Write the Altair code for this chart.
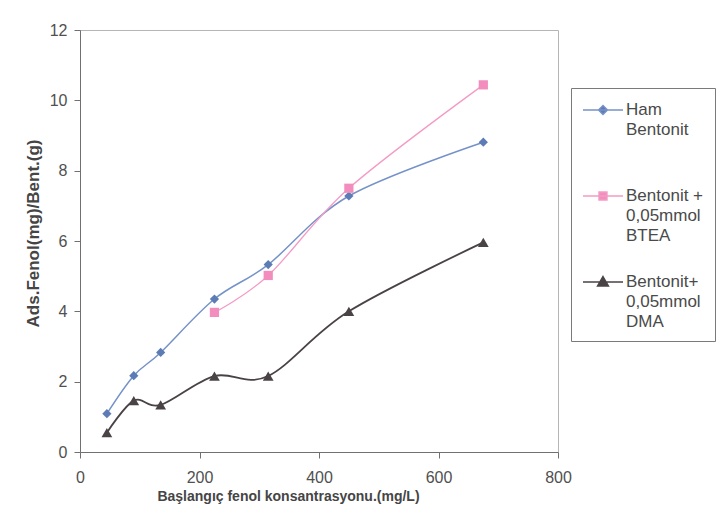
import altair as alt
import pandas as pd

# ---- data ----
x_values = [45, 90, 135, 225, 315, 450, 675]
ham_values = [1.09, 2.17, 2.83, 4.35, 5.33, 7.28, 8.81]
btea_x = [225, 315, 450, 675]
btea_values = [3.97, 5.02, 7.50, 10.44]
dma_values = [0.55, 1.46, 1.34, 2.16, 2.16, 4.00, 5.96]

series_names = ["Ham|Bentonit|", "Bentonit +|0,05mmol|BTEA", "Bentonit+|0,05mmol|DMA"]
marker_colors = ["#5d7cb6", "#f28dbd", "#4a4345"]
line_colors = ["#7592c8", "#f49ac5", "#4a4345"]
line_widths = [1.5, 1.3, 1.8]
marker_shapes = ["diamond", "square", "triangle-up"]
marker_sizes = [85, 85, 115]
# legend symbols: a short line with the series marker on it
legend_paths = [
    "M-1,0L3,0M1,-0.45L1.45,0L1,0.45L0.55,0Z",
    "M-1,0L3,0M0.6,-0.4L1.4,-0.4L1.4,0.4L0.6,0.4Z",
    "M-1,0L3,0M1,-0.55L1.55,0.4L0.45,0.4Z",
]

x_ticks = [0, 200, 400, 600, 800]
y_ticks = [0, 2, 4, 6, 8, 10, 12]

rows = []
for x, y in zip(x_values, ham_values):
    rows.append({"x": x, "y": y, "series": series_names[0]})
for x, y in zip(btea_x, btea_values):
    rows.append({"x": x, "y": y, "series": series_names[1]})
for x, y in zip(x_values, dma_values):
    rows.append({"x": x, "y": y, "series": series_names[2]})
df = pd.DataFrame(rows)

FONT = "Liberation Sans"

x_enc = alt.X(
    "x:Q",
    scale=alt.Scale(domain=[0, 800], nice=False),
    axis=alt.Axis(
        values=x_ticks,
        title="Başlangıç fenol konsantrasyonu.(mg/L)",
        titleFont=FONT, titleFontSize=14, titleFontWeight="bold", titleColor="#454545",
        titleX=208, titleY=48, titleBaseline="alphabetic", titleAlign="center",
        labelFont=FONT, labelFontSize=16, labelColor="#505050", labelPadding=11,
        tickSize=6, tickColor="#707070", domainColor="#707070", grid=False,
        labelFlush=False,
    ),
)
y_enc = alt.Y(
    "y:Q",
    scale=alt.Scale(domain=[0, 12], nice=False),
    axis=alt.Axis(
        values=y_ticks,
        title="Ads.Fenol(mg)/Bent.(g)",
        titleFont=FONT, titleFontSize=17, titleFontWeight="bold", titleColor="#454545",
        titleX=-42, titleY=203, titleAngle=270, titleBaseline="alphabetic", titleAlign="center",
        labelFont=FONT, labelFontSize=16, labelColor="#505050", labelPadding=7,
        tickSize=6, tickColor="#707070", domainColor="#707070", grid=False,
        labelFlush=False,
    ),
)

layers = []
for i, name in enumerate(series_names):
    base = alt.Chart(df).transform_filter(alt.datum.series == name)
    layers.append(
        base.mark_line(interpolate="cardinal", color=line_colors[i], strokeWidth=line_widths[i]).encode(
            x=x_enc, y=y_enc
        )
    )
for i, name in enumerate(series_names):
    base = alt.Chart(df).transform_filter(alt.datum.series == name)
    layers.append(
        base.mark_point(
            shape=marker_shapes[i], filled=True, color=marker_colors[i], size=marker_sizes[i], opacity=1
        ).encode(x=x_enc, y=y_enc)
    )

leg = alt.Legend(
    title=None,
    orient="none",
    legendX=491,
    legendY=58,
    padding=11,
    rowPadding=27,
    strokeColor="#7a7a7a",
    fillColor="white",
    labelFont=FONT,
    labelFontSize=17,
    labelColor="#4a4a4a",
    labelOffset=22,
    labelBaseline="middle",
    labelLimit=200,
    labelExpr="split(datum.label, '|')",
    symbolSize=400,
    symbolStrokeWidth=1.4,
    symbolOpacity=1,
)

legend_layer = (
    alt.Chart(df)
    .transform_filter("false")
    .mark_point(filled=True, size=400, strokeWidth=1.4, opacity=1)
    .encode(
        x=x_enc,
        y=y_enc,
        fill=alt.Fill("series:N", scale=alt.Scale(domain=series_names, range=marker_colors), legend=leg),
        stroke=alt.Stroke("series:N", scale=alt.Scale(domain=series_names, range=line_colors), legend=leg),
        shape=alt.Shape("series:N", scale=alt.Scale(domain=series_names, range=legend_paths), legend=leg),
    )
)
layers.append(legend_layer)

chart = (
    alt.layer(*layers)
    .properties(
        width=478,
        height=422,
        autosize=alt.AutoSizeParams(type="none"),
        padding={"left": 72, "top": 22, "right": 161, "bottom": 54},
        background="white",
    )
    .configure(style={"guide-label": {"lineHeight": 20}})
    .configure_view(stroke="#b5b5b5", strokeWidth=1)
)

chart.save("out.html", embed_options={"renderer": "svg", "actions": False})
